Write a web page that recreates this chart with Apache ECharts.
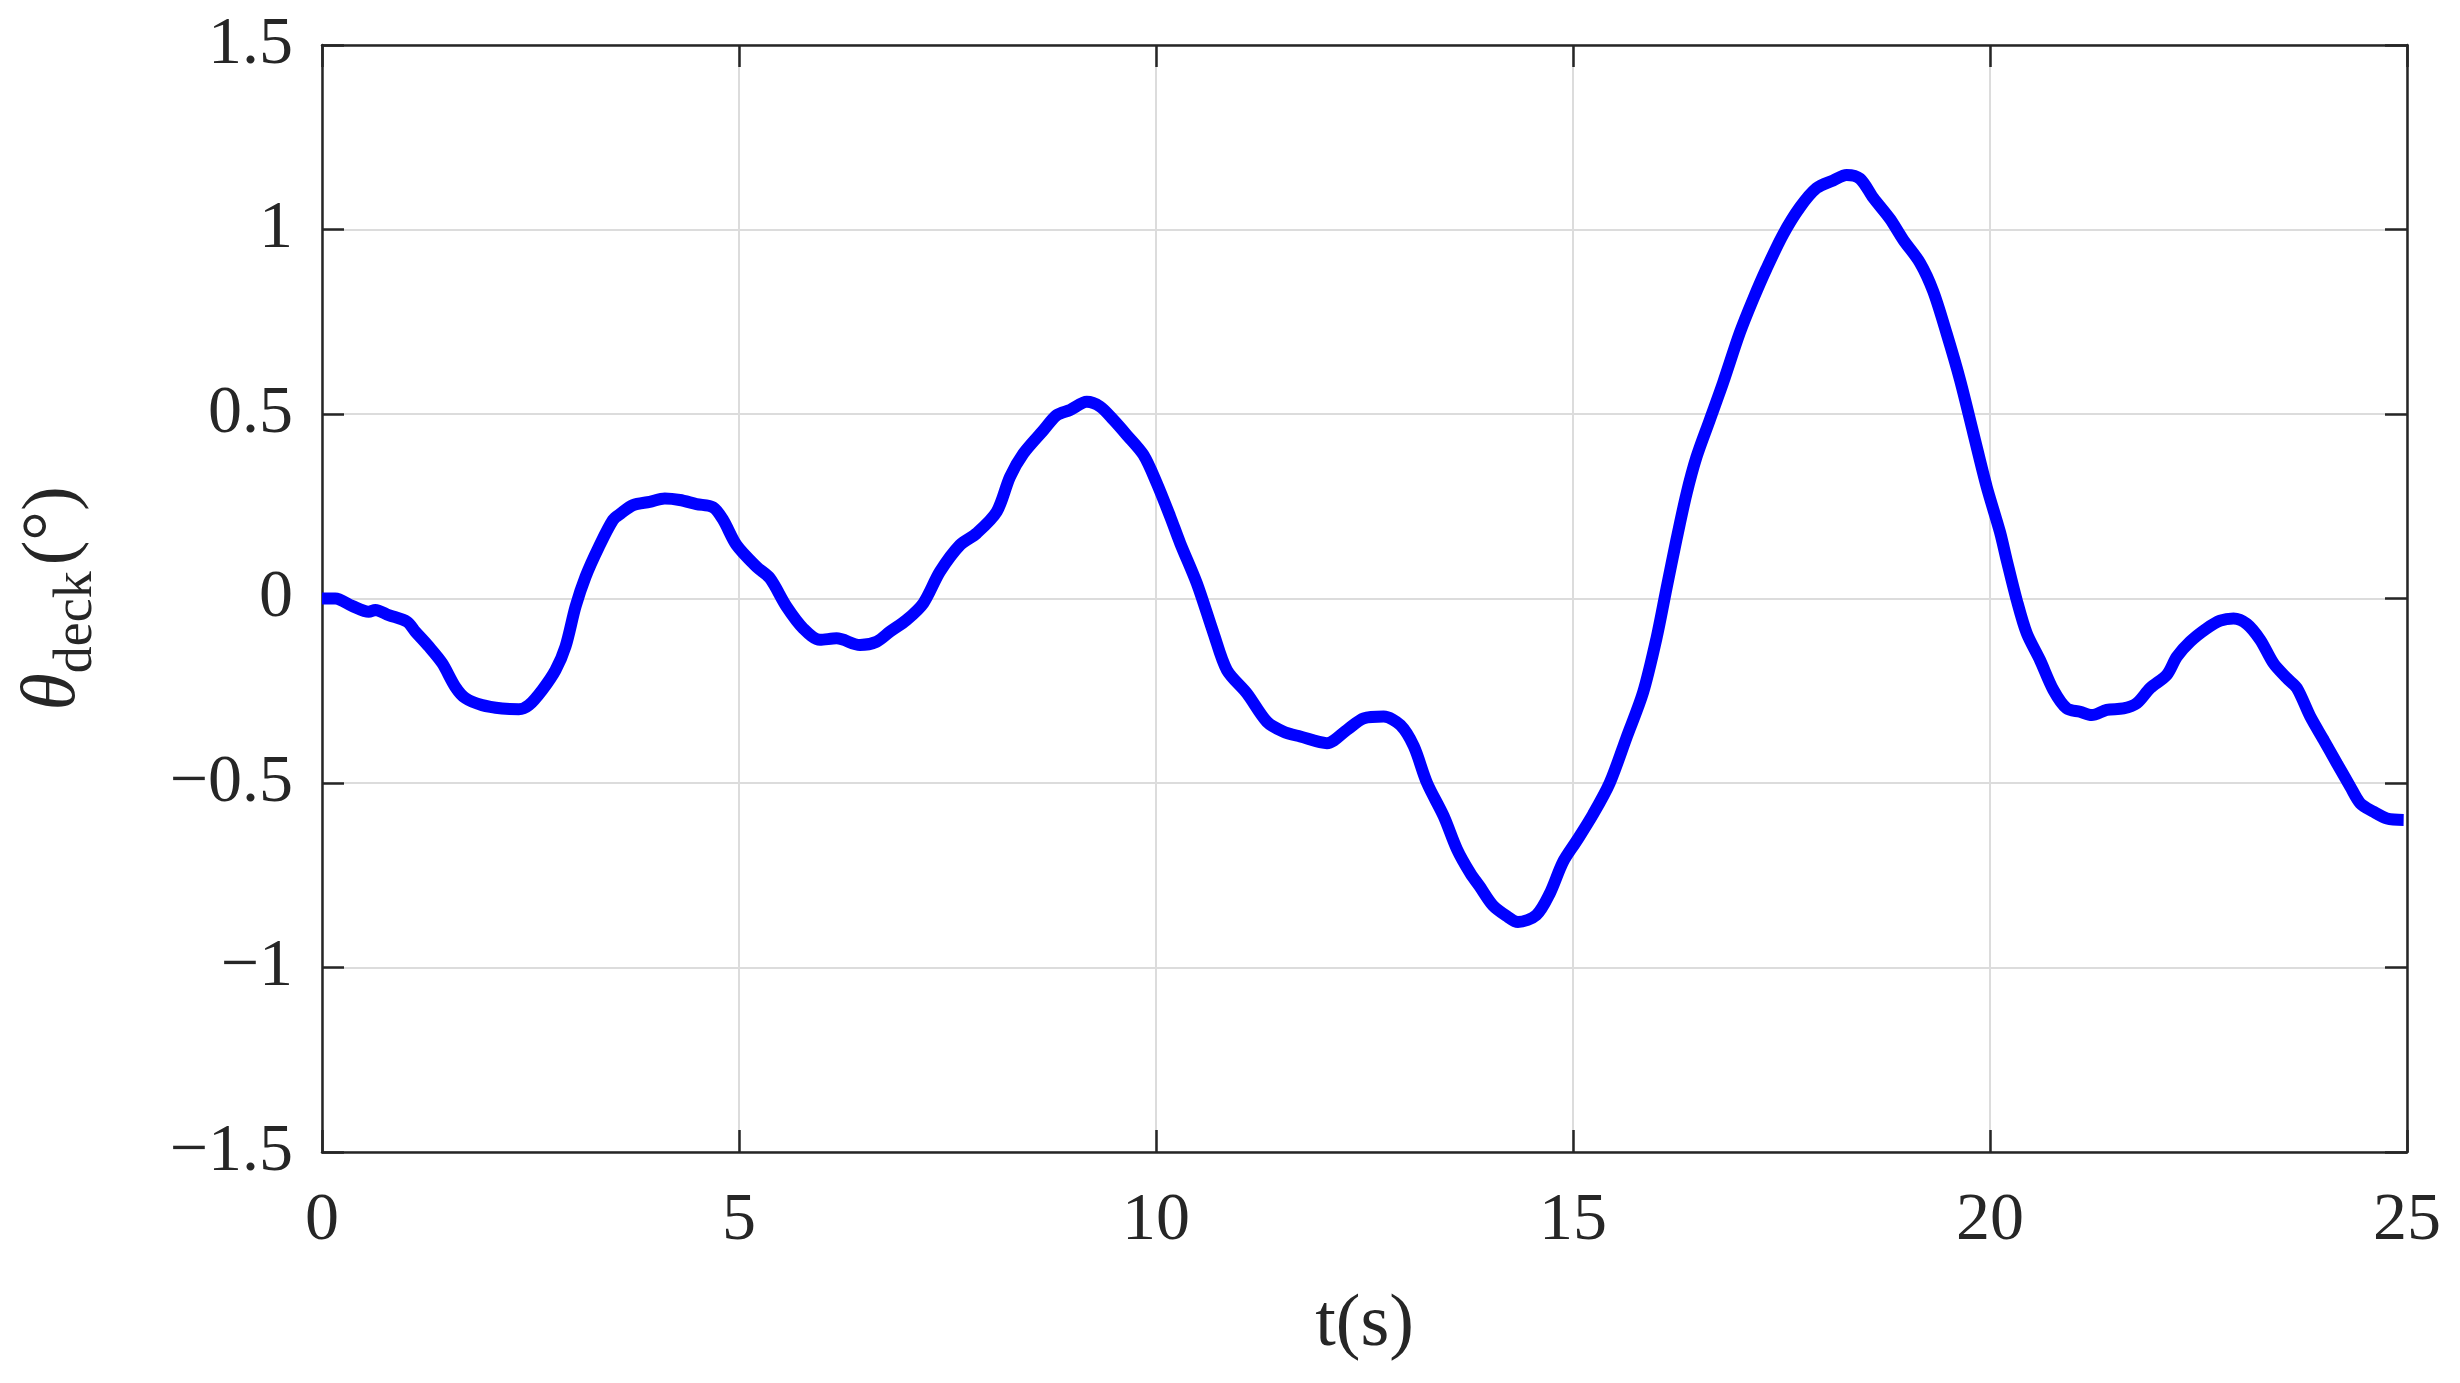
<!DOCTYPE html>
<html>
<head>
<meta charset="utf-8">
<script src="https://cdn.jsdelivr.net/npm/echarts@6/dist/echarts.min.js"></script>
<style>
html,body{margin:0;padding:0;background:#fff;}
#chart{width:2460px;height:1383px;}
</style>
</head>
<body>
<div id="chart"></div>
<script>
const timeS = [0.00,0.16,0.36,0.56,0.64,0.80,1.02,1.12,1.28,1.44,1.60,1.72,1.92,2.16,2.36,2.48,2.64,2.80,2.92,3.04,3.16,3.32,3.49,3.58,3.73,3.93,4.11,4.29,4.49,4.69,4.81,4.97,5.21,5.37,5.57,5.77,5.97,6.17,6.45,6.65,6.81,7.01,7.21,7.41,7.65,7.85,8.09,8.25,8.41,8.65,8.81,8.97,9.17,9.33,9.49,9.65,9.85,10.01,10.17,10.29,10.49,10.69,10.85,11.09,11.33,11.53,11.73,12.05,12.29,12.49,12.73,12.93,13.09,13.25,13.45,13.61,13.77,13.88,14.04,14.20,14.34,14.56,14.72,14.88,15.04,15.24,15.44,15.64,15.84,16.00,16.12,16.24,16.36,16.48,16.64,16.80,17.00,17.16,17.32,17.52,17.72,17.92,18.12,18.28,18.44,18.60,18.80,18.96,19.16,19.32,19.48,19.64,19.80,19.96,20.12,20.20,20.32,20.44,20.60,20.76,20.92,21.08,21.22,21.40,21.60,21.76,21.92,22.12,22.24,22.40,22.60,22.76,22.92,23.08,23.24,23.40,23.56,23.68,23.84,24.00,24.16,24.32,24.44,24.60,24.76,24.96];
const thetaDeck = [0.000,0.000,-0.020,-0.036,-0.031,-0.045,-0.063,-0.090,-0.130,-0.175,-0.240,-0.270,-0.289,-0.298,-0.300,-0.289,-0.248,-0.194,-0.130,-0.022,0.059,0.140,0.213,0.230,0.253,0.262,0.271,0.267,0.256,0.247,0.213,0.145,0.086,0.055,-0.022,-0.081,-0.112,-0.108,-0.126,-0.117,-0.090,-0.058,-0.013,0.073,0.145,0.177,0.235,0.330,0.393,0.456,0.497,0.511,0.533,0.520,0.484,0.443,0.389,0.312,0.222,0.150,0.041,-0.094,-0.194,-0.257,-0.334,-0.361,-0.374,-0.392,-0.356,-0.325,-0.320,-0.343,-0.400,-0.500,-0.590,-0.680,-0.745,-0.780,-0.832,-0.860,-0.877,-0.858,-0.800,-0.714,-0.658,-0.585,-0.500,-0.378,-0.255,-0.109,0.026,0.159,0.283,0.383,0.484,0.585,0.720,0.811,0.894,0.987,1.060,1.112,1.133,1.148,1.138,1.086,1.029,0.972,0.910,0.832,0.718,0.593,0.448,0.303,0.180,0.104,-0.004,-0.094,-0.167,-0.248,-0.298,-0.307,-0.316,-0.302,-0.298,-0.284,-0.243,-0.207,-0.158,-0.117,-0.081,-0.060,-0.054,-0.069,-0.112,-0.176,-0.216,-0.243,-0.320,-0.383,-0.447,-0.510,-0.555,-0.578,-0.596,-0.600];
const xTicks = [0,5,10,15,20,25];
const yTicks = [-1.5,-1,-0.5,0,0.5,1,1.5];

const FONT = '"Liberation Serif", "DejaVu Serif", serif';
const AX = '#262626';
const GRID = '#dcdcdc';
const fmtY = v => { const s = String(Math.round(v*10)/10); return s.replace('-', '\u2212'); };

const chart = echarts.init(document.getElementById('chart'));
const axLine = {show:true, onZero:false, lineStyle:{color:AX, width:2.5}};
const ticks = {show:true, inside:true, length:22, lineStyle:{color:AX, width:2.5}};
chart.setOption({
  backgroundColor:'#fff',
  animation:false,
  grid:{left:322, right:53, top:45, bottom:231, containLabel:false},
  xAxis:[{
    type:'value', position:'bottom', min:xTicks[0], max:xTicks[xTicks.length-1], interval:5,
    axisLine:axLine, axisTick:ticks,
    splitLine:{show:true, lineStyle:{color:GRID, width:2}},
    axisLabel:{fontFamily:FONT, fontSize:68, color:AX, margin:35},
    name:'t(s)', nameLocation:'middle', nameGap:137,
    nameTextStyle:{fontFamily:FONT, fontSize:74, color:AX}
  },{
    type:'value', position:'top', min:xTicks[0], max:xTicks[xTicks.length-1], interval:5,
    axisLine:axLine, axisTick:ticks, axisLabel:{show:false}, splitLine:{show:false}
  }],
  yAxis:[{
    type:'value', position:'left', min:yTicks[0], max:yTicks[yTicks.length-1], interval:0.5,
    axisLine:axLine, axisTick:ticks,
    splitLine:{show:true, lineStyle:{color:GRID, width:2}},
    axisLabel:{fontFamily:FONT, fontSize:68, color:AX, margin:29, formatter:fmtY, padding:[0,0,10,0]},
    name:'{th|θ}{sub|deck}{n|(°)}', nameLocation:'middle', nameGap:218, nameRotate:90,
    nameTextStyle:{
      fontFamily:FONT, fontSize:74, color:AX,
      rich:{
        th:{fontFamily:FONT, fontSize:76, fontStyle:'italic', color:AX, lineHeight:100, verticalAlign:'middle'},
        sub:{fontFamily:FONT, fontSize:54, color:AX, lineHeight:46, verticalAlign:'bottom'},
        n:{fontFamily:FONT, fontSize:74, color:AX, lineHeight:100, verticalAlign:'middle', padding:[0,0,0,6]}
      }
    }
  },{
    type:'value', position:'right', min:yTicks[0], max:yTicks[yTicks.length-1], interval:0.5,
    axisLine:axLine, axisTick:ticks, axisLabel:{show:false}, splitLine:{show:false}
  }],
  series:[{
    type:'line', xAxisIndex:0, yAxisIndex:0,
    data: timeS.map((t,i)=>[t, thetaDeck[i]]),
    showSymbol:false, smooth:0.3,
    lineStyle:{color:'#0000ff', width:12}, itemStyle:{color:'#0000ff'}
  }]
});
</script>
</body>
</html>
